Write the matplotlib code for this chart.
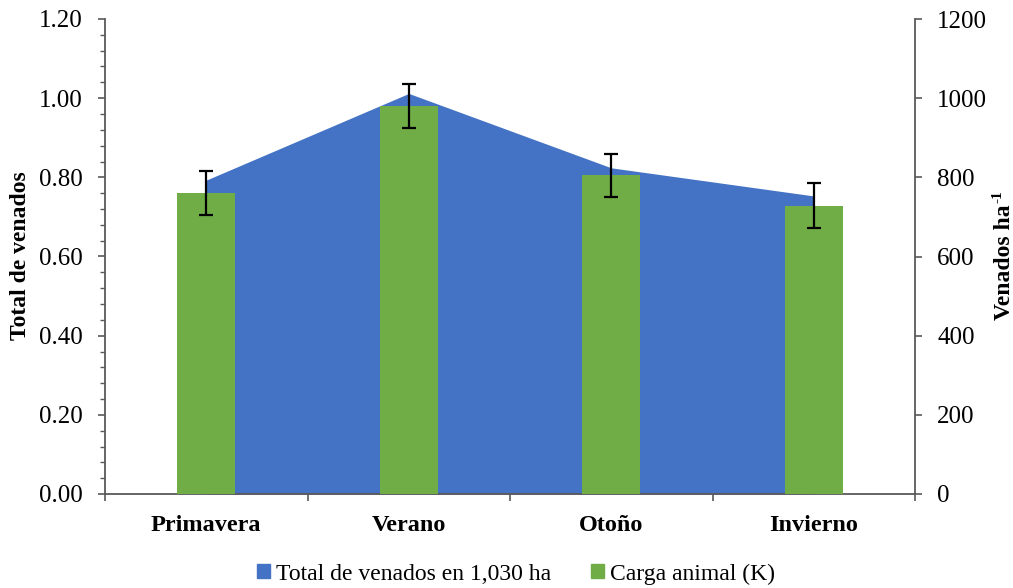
import matplotlib
matplotlib.use("Agg")
import matplotlib.pyplot as plt
from matplotlib.patches import Patch
from matplotlib.ticker import MultipleLocator, FixedLocator, NullFormatter, FormatStrFormatter
import numpy as np

plt.rcParams['font.family'] = ['Liberation Serif', 'DejaVu Serif']
plt.rcParams['axes.unicode_minus'] = False

categories = ["Primavera", "Verano", "Otoño", "Invierno"]
total_venados = [793, 1012, 824, 753]          # right axis (area)
carga_animal = [0.761, 0.981, 0.805, 0.728]    # left axis (bars)
carga_err = [0.056, 0.056, 0.055, 0.057]

blue = "#4472C4"
green = "#70AD47"
axis_col = "#595959"

W, H = 1013, 588
fig = plt.figure(figsize=(W/100, H/100), dpi=100)
ax = fig.add_axes([105/W, 1-494/H, 810/W, 475/H])
ax2 = ax.twinx()

x = np.arange(len(categories))

# area on right axis, drawn behind
ax2.fill_between(x, 0, total_venados, color=blue, linewidth=0, zorder=1)
ax2.set_ylim(0, 1200)
ax2.yaxis.set_major_locator(MultipleLocator(200))
ax2.set_zorder(1)
ax.set_zorder(2)
ax.patch.set_visible(False)

ax.bar(x, carga_animal, width=0.288, color=green, zorder=3)
ax.errorbar(x, carga_animal, yerr=carga_err, fmt='none', ecolor='black',
            elinewidth=1.6, capsize=5, capthick=1.6, zorder=4)

ax.set_xlim(-0.5, 3.5)
ax.set_ylim(0, 1.2)
ax.yaxis.set_major_locator(MultipleLocator(0.2))
ax.yaxis.set_minor_locator(MultipleLocator(0.04))
ax.yaxis.set_major_formatter(FormatStrFormatter('%.2f'))

ax.xaxis.set_major_locator(FixedLocator([-0.5, 0.5, 1.5, 2.5, 3.5]))
ax.xaxis.set_major_formatter(NullFormatter())
ax.xaxis.set_minor_locator(FixedLocator(x))
ax.set_xticklabels(categories, minor=True, fontsize=17.5, fontweight='bold')
ax.tick_params(axis='x', which='minor', length=0, pad=15)
ax.tick_params(axis='x', which='major', length=5, width=1.2, color=axis_col, direction='out')
ax.tick_params(axis='y', which='major', length=5, width=1.2, color=axis_col, labelsize=18, pad=11)
ax.tick_params(axis='y', which='minor', length=3.5, width=1.0, color=axis_col)
ax2.tick_params(axis='y', which='major', length=5, width=1.2, color=axis_col, labelsize=18, pad=11)

for a in (ax, ax2):
    a.spines['top'].set_visible(False)
    for s in a.spines.values():
        s.set_color(axis_col)
        s.set_linewidth(1.3)
ax.spines['right'].set_visible(False)
ax2.spines['left'].set_visible(False)
ax2.spines['bottom'].set_visible(False)

fig.text(20/W, 1-256/H, "Total de venados", rotation=90, fontsize=17, fontweight='bold',
         ha='center', va='center')
t_right = fig.text(1004/W, 1-262/H, "Venados ha", rotation=90, fontsize=17,
                   fontweight='bold', ha='center', va='center')
ax.annotate("-1", xy=(0, 1), xycoords=t_right, xytext=(-1.5, 0.5),
            textcoords='offset points', rotation=90, fontsize=11, fontweight='bold',
            ha='left', va='bottom', annotation_clip=False)

handles = [Patch(color=blue, label="Total de venados en 1,030 ha"),
           Patch(color=green, label="Carga animal (K)")]
fig.legend(handles=handles, loc='center', bbox_to_anchor=(0.5 + 9.5/W, 1-574/H), ncol=2,
           frameon=False, fontsize=17, handlelength=0.55, handleheight=0.55,
           handletextpad=0.25, columnspacing=1.7, borderpad=0)

fig.savefig("out.png", dpi=100)
